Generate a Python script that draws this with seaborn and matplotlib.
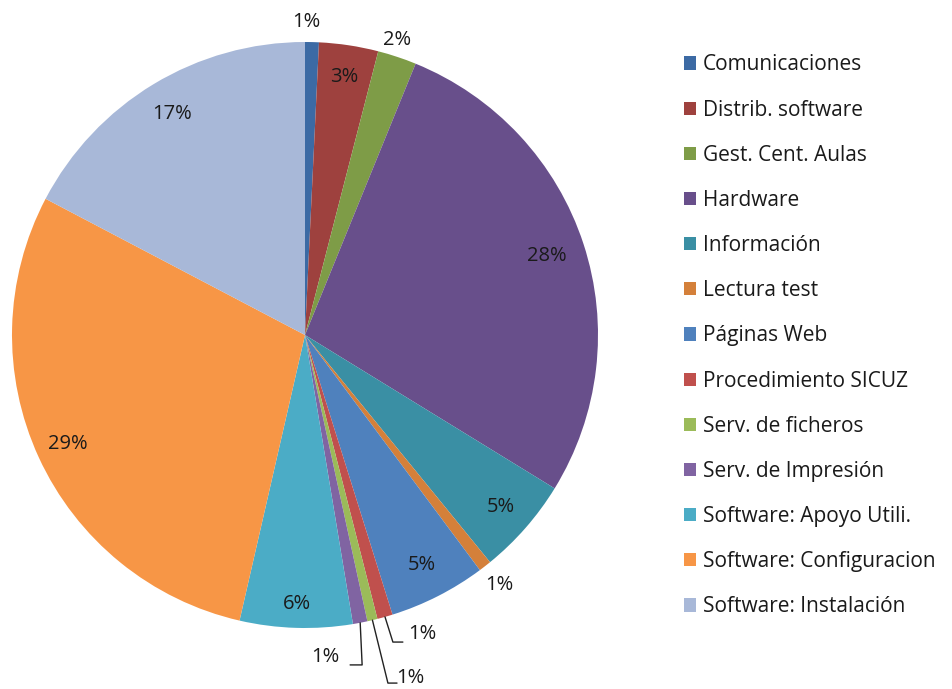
import matplotlib
matplotlib.use("Agg")
import matplotlib.pyplot as plt
import seaborn as sns
import numpy as np

categories = ["Comunicaciones", "Distrib. software", "Gest. Cent. Aulas", "Hardware",
              "Información", "Lectura test", "Páginas Web", "Procedimiento SICUZ",
              "Serv. de ficheros", "Serv. de Impresión", "Software: Apoyo Utili.",
              "Software: Configuracion", "Software: Instalación"]
values = [0.76, 3.26, 2.14, 27.6, 5.35, 0.7, 5.35, 0.85, 0.56, 0.8, 6.2, 29.1, 17.3]
colors = ["#3C6AA4", "#9E413E", "#7E9C47", "#684F8B", "#3A8FA4", "#D4803A",
          "#4F81BD", "#C0504D", "#9BBB59", "#8064A2", "#4BACC6", "#F79646", "#A8B8D8"]

sns.set_theme(style="white")
FONT = ["Open Sans", "DejaVu Sans"]
plt.rcParams['font.family'] = FONT
TXT = "#1a1a1a"

W, H = 953, 689
fig = plt.figure(figsize=(W / 100, H / 100), dpi=100)
cx, cy, r = 305, 335, 293
ax = fig.add_axes([(cx - r) / W, (H - cy - r) / H, 2 * r / W, 2 * r / H])

wedges, _ = ax.pie(values, colors=colors, startangle=90, counterclock=False,
                   radius=1.0, wedgeprops=dict(linewidth=0))
ax.set_xlim(-1, 1)
ax.set_ylim(-1, 1)
ax.set_aspect('equal')
ax.axis('off')

total = sum(values)
cum = np.cumsum([0] + values[:-1])
mids = [(c + v / 2) / total * 2 * np.pi for c, v in zip(cum, values)]  # from top, clockwise

def pos(i, rr):
    a = mids[i]
    return rr * np.sin(a), rr * np.cos(a)

labels = [f"{round(v / total * 100):.0f}%" for v in values]
fs = 14.5

radial = {1: 0.89, 3: 0.87, 4: 0.89, 6: 0.88, 10: 0.92, 11: 0.89, 12: 0.88,
          0: 1.07, 2: 1.06, 5: 1.08}
for i, rr in radial.items():
    x, y = pos(i, rr)
    if i == 0:
        x -= 0.02
    if i == 2:
        x -= 0.02
    ax.text(x, y, labels[i], ha='center', va='center', fontsize=fs, color=TXT)

# leader lines for tiny slices
leaders = {
    7: ([(0.300, -1.048), (0.334, -1.048)], (0.40, -1.02)),
    8: ([(0.283, -1.188), (0.314, -1.188)], (0.36, -1.171)),
    9: ([(0.195, -1.126), (0.154, -1.126)], (0.068, -1.099)),
}
for i, (pts, tpos) in leaders.items():
    x0, y0 = pos(i, 1.0)
    xs = [x0] + [p[0] for p in pts]
    ys = [y0] + [p[1] for p in pts]
    ax.plot(xs, ys, color="#222222", lw=1.0, clip_on=False)
    ax.text(tpos[0], tpos[1], labels[i], ha='center', va='center', fontsize=fs, color=TXT)

leg = fig.legend(wedges, categories, loc='upper left',
                 bbox_to_anchor=(676 / W, 1 - 46 / H), frameon=False,
                 fontsize=15, handlelength=0.58, handleheight=0.6,
                 handletextpad=0.3, labelspacing=1.16, borderaxespad=0)
for t in leg.get_texts():
    t.set_color(TXT)

fig.savefig("out.png", dpi=100)
